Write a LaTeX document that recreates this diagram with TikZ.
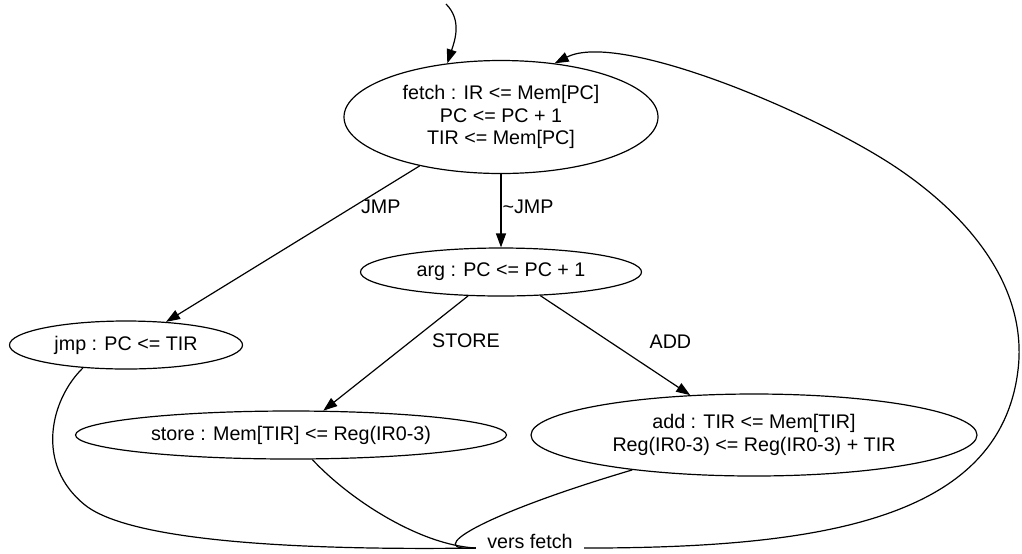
\documentclass[tikz,border=0pt]{standalone}
\usepackage{fontspec}
\setmainfont{Liberation Sans}
\usepackage{tikz}
\usetikzlibrary{shapes}
\usetikzlibrary{arrows.meta}
\tikzstyle{State}=[ellipse,draw=black,line width=.6pt,inner sep=0pt,
align=center,font=\fontsize{9.85}{11.4}\selectfont]
\tikzstyle{Edge}=[draw=black,line width=.6pt,-{Triangle[length=7pt,width=5pt]}]
\tikzstyle{Link}=[draw=black,line width=.6pt]
\tikzstyle{Label}=[inner sep=1pt,font=\fontsize{9.85}{11.4}\selectfont]

\begin{document}
\begin{tikzpicture}[x=.5pt,y=-.5pt]
        \path[use as bounding box,fill=white](0,0)rectangle(1022,553);
        \node[State,minimum width=157pt,minimum height=56.5pt](fetch)at(501,117){fetch : IR <= Mem[PC]\\PC <= PC + 1\\TIR <= Mem[PC]};
        \node[State,minimum width=140.5pt,minimum height=24pt](arg)at(501,272){arg : PC <= PC + 1};
        \node[State,minimum width=116.5pt,minimum height=24pt](jmp)at(126,345){jmp : PC <= TIR};
        \node[State,minimum width=215.5pt,minimum height=24pt](store)at(291,435){store : Mem[TIR] <= Reg(IR0-3)};
        \node[State,minimum width=223pt,minimum height=41pt](add)at(754,435){add : TIR <= Mem[TIR]\\Reg(IR0-3) <= Reg(IR0-3) + TIR};
        \node[Label,inner xsep=5.5pt](vers)at(530,541){vers fetch};
        \coordinate(init)at(446,4);
        \draw[Edge](init)..controls(462,20)and(455,40)..(fetch.135);
        \draw[Edge](fetch.211)--node[Label,pos=.265,right=3pt]{JMP}(jmp.30);
        \draw[Edge](fetch.south)--node[Label,pos=.45,anchor=west,inner sep=.5pt]{\textasciitilde JMP}(arg.north);
        \draw[Edge](arg.216)--node[Label,pos=.39,right=9pt]{STORE}(store.37);
        \draw[Edge](arg.329)--node[Label,pos=.465,right=18.5pt]{ADD}(add.148);
        % back to fetch
        \draw[Link](jmp.208)..controls(50,400)and(35,465)..(85,505)
            ..controls(135,545)and(330,550)..(vers.base west);
        \draw[Link](store.311)..controls(350,500)and(420,545)..(vers.base west);
        \draw[Link](add.196)..controls(480,515)and(420,552)..(vers.base west);
        \draw[Edge](vers.base east)..controls(820,548)and(1000,520)..(1018,370)
            ..controls(1027,295)and(980,225)..(900,170)
            ..controls(820,115)and(620,30)..(fetch.45);
\end{tikzpicture}
\end{document}
